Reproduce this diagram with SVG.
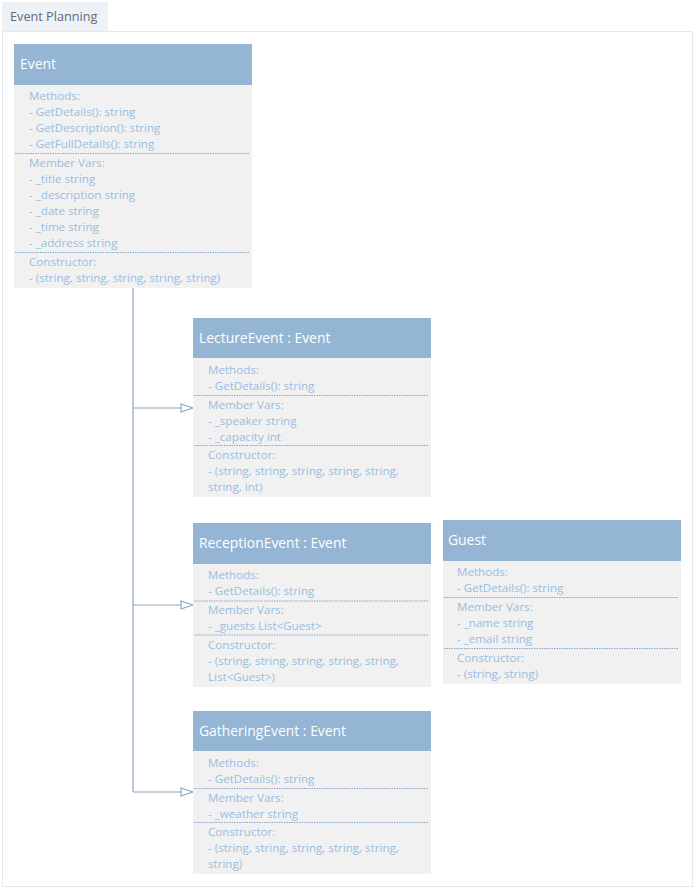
<svg xmlns="http://www.w3.org/2000/svg" width="695" height="889" viewBox="0 0 695 889">
<style>
.frame{fill:#ffffff;stroke:#e4e9ef;stroke-width:1}
.tab{fill:#eef2f7}
.tabt{font-family:"Open Sans","Liberation Sans",sans-serif;font-size:12.7px;fill:#5b6b80}
.hd{fill:#94b5d3}
.bd{fill:#f1f1f1}
.ht{font-family:"Open Sans","Liberation Sans",sans-serif;font-size:13.9px;fill:#ffffff}
.bt{font-family:"Open Sans","Liberation Sans",sans-serif;font-size:11.6px;fill:#98bde2}
.sep{stroke:#8aa6c6;stroke-width:1;stroke-dasharray:1.5 1}
.con{fill:none;stroke:#8fa6c0;stroke-width:1.2}
.arr{fill:#ffffff;stroke:#8fa6c0;stroke-width:1.2}
</style>
<rect class="frame" x="2.5" y="31.5" width="690" height="855"/>
<g id="title">
<rect class="tab" x="2" y="2" width="106" height="29"/>
<text class="tabt" x="10" y="21">Event Planning</text>
</g>
<g id="connectors">
<path class="con" d="M133 288 V792 M133 408 H181 M133 605 H181 M133 792 H181"/>
<polygon class="arr" points="181,404 193,408 181,412"/>
<polygon class="arr" points="181,601 193,605 181,609"/>
<polygon class="arr" points="181,788 193,792 181,796"/>
</g>
<g id="Event">
<rect class="hd" x="14" y="44" width="238" height="41"/>
<rect class="bd" x="14" y="85" width="238" height="203"/>
<text class="ht" x="20" y="69">Event</text>
<text class="bt" x="29" y="100">Methods:</text>
<text class="bt" x="29" y="116">- GetDetails(): string</text>
<text class="bt" x="29" y="132">- GetDescription(): string</text>
<text class="bt" x="29" y="148">- GetFullDetails(): string</text>
<line class="sep" x1="15" y1="153.5" x2="250" y2="153.5"/>
<text class="bt" x="29" y="167">Member Vars:</text>
<text class="bt" x="29" y="183">- _title string</text>
<text class="bt" x="29" y="199">- _description string</text>
<text class="bt" x="29" y="215">- _date string</text>
<text class="bt" x="29" y="231">- _time string</text>
<text class="bt" x="29" y="247">- _address string</text>
<line class="sep" x1="15" y1="252.5" x2="250" y2="252.5"/>
<text class="bt" x="29" y="266">Constructor:</text>
<text class="bt" x="29" y="282">- (string, string, string, string, string)</text>
</g>
<g id="LectureEvent">
<rect class="hd" x="193" y="318" width="238" height="40"/>
<rect class="bd" x="193" y="358" width="238" height="139"/>
<text class="ht" x="199" y="343">LectureEvent : Event</text>
<text class="bt" x="208" y="374">Methods:</text>
<text class="bt" x="208" y="390">- GetDetails(): string</text>
<line class="sep" x1="194" y1="395.5" x2="429" y2="395.5"/>
<text class="bt" x="208" y="409">Member Vars:</text>
<text class="bt" x="208" y="425">- _speaker string</text>
<text class="bt" x="208" y="441">- _capacity int</text>
<line class="sep" x1="194" y1="445.5" x2="429" y2="445.5"/>
<text class="bt" x="208" y="459">Constructor:</text>
<text class="bt" x="208" y="475">- (string, string, string, string, string,</text>
<text class="bt" x="208" y="491">string, int)</text>
</g>
<g id="ReceptionEvent">
<rect class="hd" x="193" y="523" width="238" height="41"/>
<rect class="bd" x="193" y="564" width="238" height="123"/>
<text class="ht" x="199" y="548">ReceptionEvent : Event</text>
<text class="bt" x="208" y="579">Methods:</text>
<text class="bt" x="208" y="595">- GetDetails(): string</text>
<line class="sep" x1="194" y1="601" x2="429" y2="601"/>
<text class="bt" x="208" y="614">Member Vars:</text>
<text class="bt" x="208" y="630">- _guests List&lt;Guest&gt;</text>
<line class="sep" x1="194" y1="635" x2="429" y2="635"/>
<text class="bt" x="208" y="649">Constructor:</text>
<text class="bt" x="208" y="665">- (string, string, string, string, string,</text>
<text class="bt" x="208" y="681">List&lt;Guest&gt;)</text>
</g>
<g id="Guest">
<rect class="hd" x="443" y="520" width="238" height="41"/>
<rect class="bd" x="443" y="561" width="238" height="123"/>
<text class="ht" x="448" y="545">Guest</text>
<text class="bt" x="457" y="576">Methods:</text>
<text class="bt" x="457" y="592">- GetDetails(): string</text>
<line class="sep" x1="444" y1="597.5" x2="679" y2="597.5"/>
<text class="bt" x="457" y="611">Member Vars:</text>
<text class="bt" x="457" y="627">- _name string</text>
<text class="bt" x="457" y="643">- _email string</text>
<line class="sep" x1="444" y1="648.5" x2="679" y2="648.5"/>
<text class="bt" x="457" y="662">Constructor:</text>
<text class="bt" x="457" y="678">- (string, string)</text>
</g>
<g id="GatheringEvent">
<rect class="hd" x="193" y="711" width="238" height="40"/>
<rect class="bd" x="193" y="751" width="238" height="123"/>
<text class="ht" x="199" y="736">GatheringEvent : Event</text>
<text class="bt" x="208" y="767">Methods:</text>
<text class="bt" x="208" y="783">- GetDetails(): string</text>
<line class="sep" x1="194" y1="788.5" x2="429" y2="788.5"/>
<text class="bt" x="208" y="802">Member Vars:</text>
<text class="bt" x="208" y="818">- _weather string</text>
<line class="sep" x1="194" y1="822.5" x2="429" y2="822.5"/>
<text class="bt" x="208" y="836">Constructor:</text>
<text class="bt" x="208" y="852">- (string, string, string, string, string,</text>
<text class="bt" x="208" y="868">string)</text>
</g>
</svg>
